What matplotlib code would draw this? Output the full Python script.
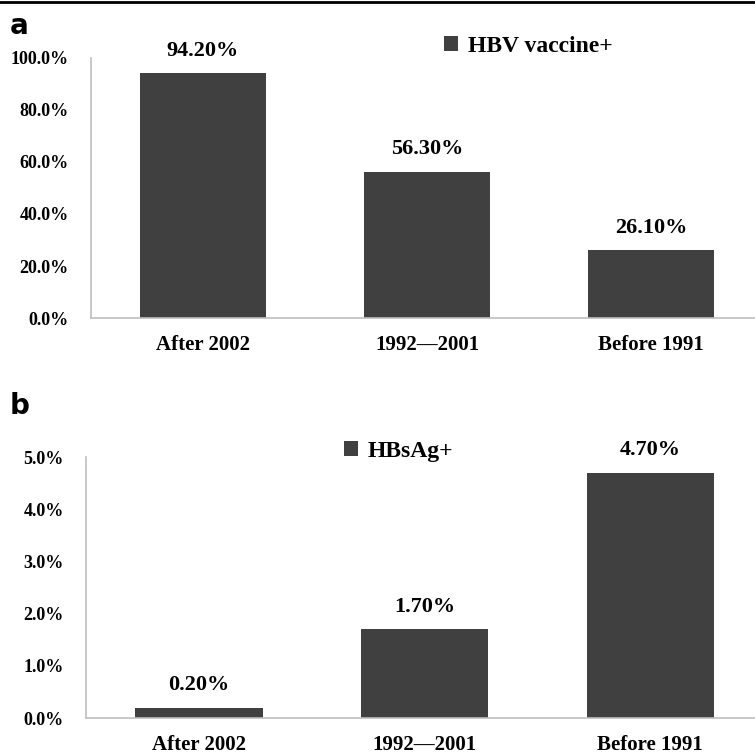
import matplotlib
matplotlib.use("Agg")
import matplotlib.pyplot as plt
from matplotlib.ticker import FuncFormatter
from matplotlib.lines import Line2D

categories = ["After 2002", "1992\u20142001", "Before 1991"]
vaccine_pct = [94.2, 56.3, 26.1]
hbsag_pct = [0.2, 1.7, 4.7]

BAR_COLOR = "#404040"
SPINE_COLOR = "#bfbfbf"
SERIF = "Liberation Serif"

fig = plt.figure(figsize=(7.55, 7.55), dpi=100)


def draw_panel(rect, values, ymax, ystep, legend_label, legend_xy, letter, letter_y):
    ax = fig.add_axes(rect)
    x = range(len(categories))
    bars = ax.bar(x, values, width=0.565, color=BAR_COLOR, label=legend_label, zorder=2)
    ax.set_xlim(-0.5, 2.5)
    ax.set_ylim(0, ymax)
    ax.set_yticks([ystep * i for i in range(int(round(ymax / ystep)) + 1)])
    ax.yaxis.set_major_formatter(FuncFormatter(lambda v, _: f"{v:.1f}%"))
    ax.set_xticks(list(x))
    ax.set_xticklabels(categories)
    for s in ("top", "right"):
        ax.spines[s].set_visible(False)
    for s in ("left", "bottom"):
        ax.spines[s].set_color(SPINE_COLOR)
        ax.spines[s].set_linewidth(1.2)
    ax.tick_params(length=0)
    ax.tick_params(axis="y", pad=16)
    ax.tick_params(axis="x", pad=12)
    for lab in ax.get_yticklabels():
        lab.set_fontfamily(SERIF)
        lab.set_fontweight("bold")
        lab.set_fontsize(13)
    for lab in ax.get_xticklabels():
        lab.set_fontfamily(SERIF)
        lab.set_fontweight("bold")
        lab.set_fontsize(15)
    for b, v in zip(bars, values):
        ax.annotate(f"{v:.2f}%", (b.get_x() + b.get_width() / 2, v),
                    xytext=(0, 9), textcoords="offset points",
                    ha="center", va="bottom", fontfamily=SERIF,
                    fontweight="bold", fontsize=16)
    ax.legend(loc="center left", bbox_to_anchor=legend_xy, bbox_transform=fig.transFigure,
              frameon=False, handlelength=0.6, handleheight=0.6, handletextpad=0.4,
              borderpad=0, borderaxespad=0,
              prop={"family": SERIF, "weight": "bold", "size": 17})
    fig.text(0.013, letter_y, letter, fontsize=20, fontweight="bold",
             fontfamily="DejaVu Sans", va="center", ha="left")
    return ax


draw_panel([0.1205, 0.5788, 0.89, 0.3444], vaccine_pct, 100, 20,
           "HBV vaccine+", (0.588, 0.939), "a", 0.966)
draw_panel([0.1139, 0.049, 0.897, 0.3457], hbsag_pct, 5, 1,
           "HBsAg+", (0.455, 0.4026), "b", 0.462)

# thin black rule along the top edge
fig.add_artist(Line2D([0, 1], [0.998, 0.998], transform=fig.transFigure,
                      color="black", linewidth=2))

fig.savefig("out.png", dpi=100)
